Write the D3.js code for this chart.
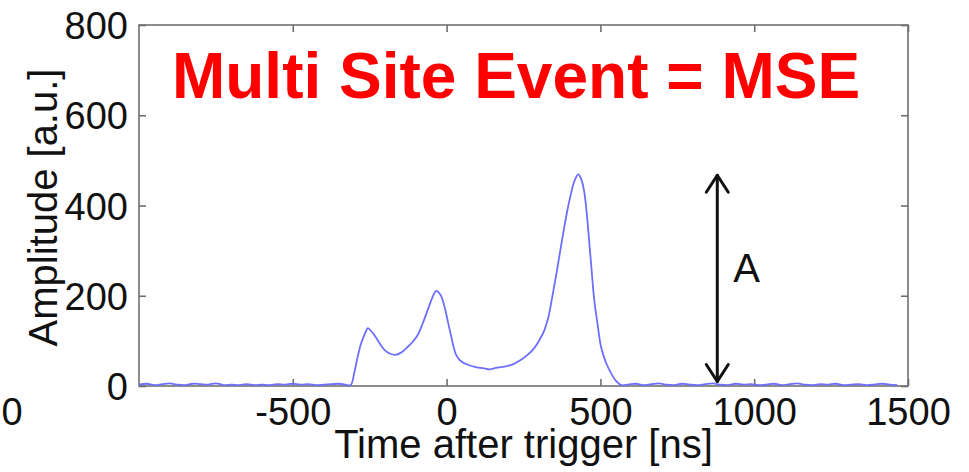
<!DOCTYPE html>
<html>
<head>
<meta charset="utf-8">
<script src="https://cdn.jsdelivr.net/npm/d3@7"></script>
<style>
  html, body { margin: 0; padding: 0; background: #fff; }
  svg { display: block; }
  text { font-family: "Liberation Sans", Arial, Helvetica, sans-serif; }
</style>
</head>
<body>
<svg id="chart" width="969" height="472"></svg>
<script>
// ---------- data ----------
const title = "Multi Site Event = MSE";
const xLabel = "Time after trigger [ns]";
const yLabel = "Amplitude [a.u.]";
const xTicks = [-500, 0, 500, 1000, 1500];
const xTickLabels = ["-500", "0", "500", "1000", "1500"];
const yTicks = [0, 200, 400, 600, 800];
const yTickLabels = ["0", "200", "400", "600", "800"];
const xDomain = [-1000, 1500];
const yDomain = [0, 800];

// time samples [ns] and amplitudes [a.u.]
const times = [
  -1000, -975, -950, -925, -900, -875, -850, -825, -800, -775, -750, -725, -700,
  -675, -650, -625, -600, -575, -550, -525, -500, -475, -450, -425, -400, -375,
  -350, -330, -312,
  -300, -289, -280, -271, -263, -256, -248, -235, -220, -202, -185, -167, -148,
  -126, -110, -94, -78, -61, -47, -34, -20, -7, 5, 15, 23, 31, 45, 69, 95, 110,
  123, 140, 160, 188, 215, 242, 265, 285, 302, 318, 330, 340, 350, 361, 372, 383,
  394, 405, 416, 428, 438, 448, 456, 464, 472, 480, 491, 502, 518, 535, 550, 568,
  590, 615, 640, 665, 690, 715, 740, 765, 790, 815, 840, 865, 890, 915, 940, 965,
  990, 1015, 1040, 1065, 1090, 1115, 1140, 1165, 1190, 1215, 1240, 1265, 1290,
  1315, 1340, 1365, 1390, 1415, 1440, 1465, 1490, 1500
];
const amplitudes = [
  3, 5, 2, 4, 6, 3, 2, 5, 4, 3, 6, 2, 3,
  2, 4, 2, 3, 2, 4, 3, 5, 3, 4, 2, 3, 4,
  5, 3, 2,
  30, 65, 90, 107, 120, 128, 124, 113, 97, 80, 72, 69, 74,
  87, 98, 113, 138, 169, 195, 211, 202, 176, 140, 110, 86, 69, 56, 47, 42, 40,
  39, 37, 40, 43, 48, 58, 70, 84, 102, 124, 150, 184, 222, 265, 310, 354,
  394, 428, 455, 469, 458, 428, 380, 317, 252, 191, 136, 87, 52, 28, 12, 2,
  3, 5, 2, 4, 6, 3, 2, 5, 3, 2, 4, 6, 3, 2,
  5, 3, 4, 2, 3, 5, 2, 4, 6, 3, 2, 4, 3,
  5, 2, 3, 4, 2, 3, 5, 3, 2
];

// amplitude arrow "A"
const arrowTime = 880;
const arrowFrom = 10;
const arrowTo = 467;
const arrowLabel = "A";
const strayLabel = "0";

// ---------- layout ----------
const W = 969, H = 472;
const margin = { left: 139, top: 25, right: 61, bottom: 86 };
const iw = W - margin.left - margin.right;
const ih = H - margin.top - margin.bottom;

const svg = d3.select("#chart");
const g = svg.append("g").attr("transform", `translate(${margin.left},${margin.top})`);

const x = d3.scaleLinear().domain(xDomain).range([0, iw]);
const y = d3.scaleLinear().domain(yDomain).range([ih, 0]);

const axisColor = "#707070";
const tickLen = 7;
const fontSize = 38;

// frame
g.append("rect")
  .attr("x", 0).attr("y", 0).attr("width", iw).attr("height", ih)
  .attr("fill", "none").attr("stroke", axisColor).attr("stroke-width", 1.6);

// axes with inward ticks
const xFmt = d => xTickLabels[xTicks.indexOf(d)];
const yFmt = d => yTickLabels[yTicks.indexOf(d)];
const xb = g.append("g").attr("transform", `translate(0,${ih})`)
  .call(d3.axisBottom(x).tickValues(xTicks).tickFormat(xFmt).tickSizeInner(-tickLen).tickSizeOuter(0));
const xt = g.append("g")
  .call(d3.axisTop(x).tickValues(xTicks).tickSizeInner(-tickLen).tickSizeOuter(0).tickFormat(""));
const yl = g.append("g")
  .call(d3.axisLeft(y).tickValues(yTicks).tickFormat(yFmt).tickSizeInner(-tickLen).tickSizeOuter(0).tickPadding(tickLen + 4));
const yr = g.append("g").attr("transform", `translate(${iw},0)`)
  .call(d3.axisRight(y).tickValues(yTicks).tickSizeInner(-tickLen).tickSizeOuter(0).tickFormat(""));

[xb, xt, yl, yr].forEach(a => {
  a.select(".domain").remove();
  a.selectAll(".tick line").attr("stroke", axisColor).attr("stroke-width", 1.6);
  a.selectAll(".tick text")
    .attr("fill", "#111")
    .style("font-size", fontSize + "px")
    .style("font-family", '"Liberation Sans", Arial, Helvetica, sans-serif');
});
xb.selectAll(".tick text").attr("dy", 0).attr("y", 425 - margin.top - ih);
yl.selectAll(".tick text").attr("dy", "0.36em");

// waveform
const series = times.map((t, i) => ({ t, v: amplitudes[i] }));
const line = d3.line()
  .x(d => x(d.t))
  .y(d => y(d.v))
  .curve(d3.curveCatmullRom.alpha(0.5));
g.append("path")
  .datum(series)
  .attr("d", line)
  .attr("fill", "none")
  .attr("stroke", "#6e6eff")
  .attr("stroke-width", 1.8)
  .attr("stroke-linejoin", "round");

// double-headed arrow
const ax = x(arrowTime), ay1 = y(arrowTo), ay2 = y(arrowFrom);
const ah = 17, aw = 11;
const arrow = g.append("g").attr("stroke", "#111").attr("stroke-width", 3)
  .attr("fill", "none").attr("stroke-linecap", "round").attr("stroke-linejoin", "round");
arrow.append("line").attr("x1", ax).attr("x2", ax).attr("y1", ay1).attr("y2", ay2);
arrow.append("path").attr("d", `M${ax - aw},${ay1 + ah}L${ax},${ay1}L${ax + aw},${ay1 + ah}`);
arrow.append("path").attr("d", `M${ax - aw},${ay2 - ah}L${ax},${ay2}L${ax + aw},${ay2 - ah}`);

g.append("text")
  .attr("x", ax + 16).attr("y", y((arrowFrom + arrowTo) / 2) + 4)
  .attr("fill", "#111")
  .style("font-size", "40px")
  .text(arrowLabel);

// title
svg.append("text")
  .attr("x", 516).attr("y", 98)
  .attr("text-anchor", "middle")
  .attr("fill", "#ff0000")
  .style("font-size", "64px")
  .style("font-weight", "bold")
  .text(title);

// axis labels
svg.append("text")
  .attr("x", margin.left + x(250)).attr("y", 458)
  .attr("text-anchor", "middle")
  .attr("fill", "#111")
  .style("font-size", "40px")
  .text(xLabel);

svg.append("text")
  .attr("transform", `translate(57,${margin.top + y(400) + 2}) rotate(-90)`)
  .attr("text-anchor", "middle")
  .attr("fill", "#111")
  .style("font-size", "40px")
  .text(yLabel);

// stray fragment of a cut-off tick label at the far left
svg.append("text")
  .attr("x", 12).attr("y", 425)
  .attr("text-anchor", "middle")
  .attr("fill", "#111")
  .style("font-size", fontSize + "px")
  .text(strayLabel);
</script>
</body>
</html>
